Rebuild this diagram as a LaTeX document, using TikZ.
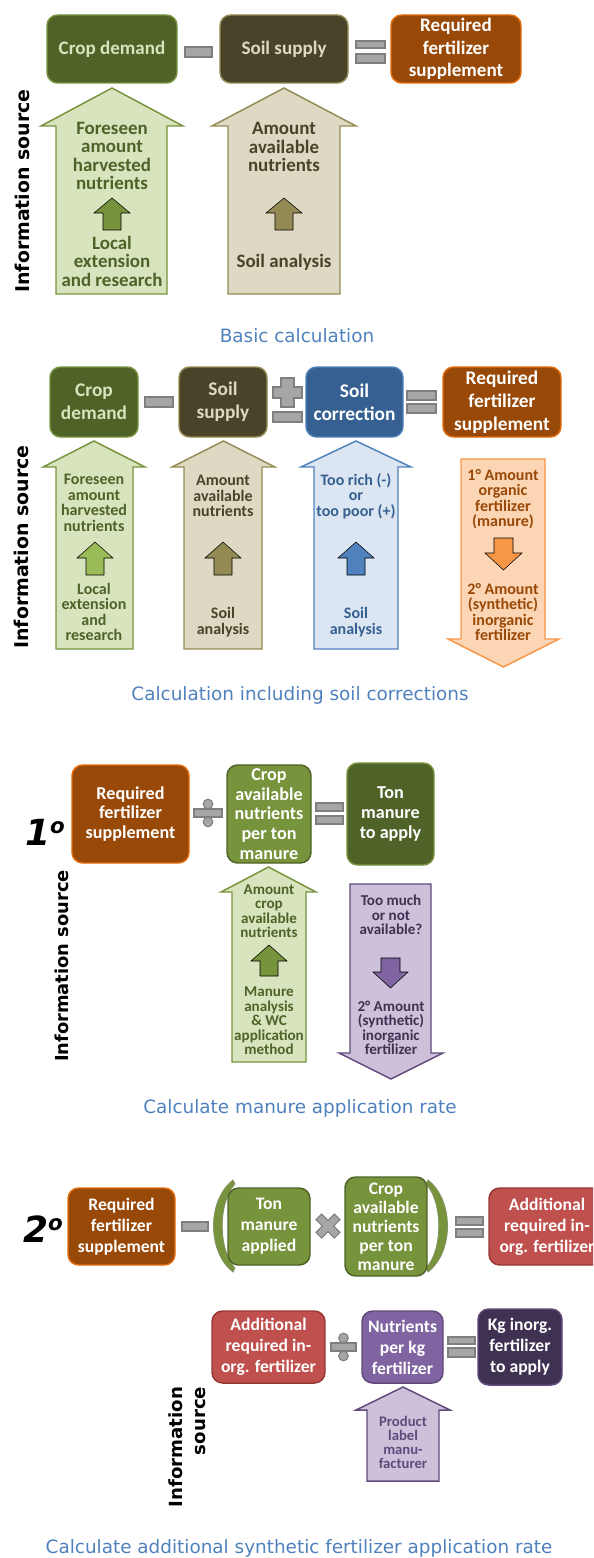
\documentclass[tikz,border=0pt]{standalone}
\usepackage{fontspec}
\setmainfont{Carlito}
\newfontfamily\verdfont{DejaVu Sans}

\definecolor{dkgreen}{HTML}{4F6228}
\definecolor{mdgreen}{HTML}{77933C}
\definecolor{ltgreen}{HTML}{D7E4BD}
\definecolor{grgreen}{HTML}{9BBB59}
\definecolor{dkolive}{HTML}{494429}
\definecolor{mdolive}{HTML}{948A54}
\definecolor{ltolive}{HTML}{DDD9C3}
\definecolor{dkbrown}{HTML}{984807}
\definecolor{mdorange}{HTML}{E46C0A}
\definecolor{ltorange}{HTML}{F79646}
\definecolor{peach}{HTML}{FCD5B5}
\definecolor{dkblue}{HTML}{366092}
\definecolor{mdblue}{HTML}{4F81BD}
\definecolor{ltblue}{HTML}{DCE6F2}
\definecolor{dkpurple}{HTML}{3F3151}
\definecolor{mdpurple}{HTML}{604A7B}
\definecolor{lvpurple}{HTML}{8064A2}
\definecolor{ltpurple}{HTML}{CCC0DA}
\definecolor{redbox}{HTML}{C0504D}
\definecolor{dkred}{HTML}{953735}
\definecolor{opgray}{HTML}{A6A6A6}
\definecolor{opedge}{HTML}{7F7F7F}

\newcommand{\boxnode}[7]{%
  \node[box,#1,minimum width={(#5-#3)*0.75pt},minimum height={(#6-#4)*0.75pt}]
    (#2) at ({(#3+#5)/2},{(#4+#6)/2}) {#7};}
\newcommand{\blockarrow}[8]{%
  \draw[#1] (#2,#8) -- (#2,#7) -- (#4,#7) -- ({(#4+#5)/2},#6) -- (#5,#7)
    -- (#3,#7) -- (#3,#8) -- cycle;}
\newcommand{\opbar}[4]{\draw[op] (#1,#2) rectangle (#3,#4);}
\newcommand{\divop}[4]{%
  \opbar{#1}{#3-4}{#2}{#3+4}
  \draw[op] ({(#1+#2)/2},#3-#4) circle[radius=3.6pt];
  \draw[op] ({(#1+#2)/2},#3+#4) circle[radius=3.6pt];}

\begin{document}
\begin{tikzpicture}[x=0.75pt,y=-0.75pt,
    box/.style={rounded corners=8pt,line width=1.1pt,inner sep=0pt,align=center},
    op/.style={fill=opgray,draw=opedge,line width=0.8pt},
    big/.style={line width=1.1pt},
    atext/.style={align=center,inner sep=0pt},
    fa/.style={font=\bfseries\fontsize{14.3}{16.9}\selectfont},
    fb/.style={font=\bfseries\fontsize{14.5}{17.2}\selectfont},
    fc/.style={font=\bfseries\fontsize{13.6}{14.8}\selectfont},
    fd/.style={font=\bfseries\fontsize{13.2}{15.7}\selectfont},
    ta/.style={atext,font=\bfseries\fontsize{14.2}{13.9}\selectfont},
    tb/.style={atext,font=\bfseries\fontsize{12}{11.6}\selectfont},
    tc/.style={atext,font=\bfseries\fontsize{11.3}{10.9}\selectfont},
    td/.style={atext,font=\bfseries\fontsize{11}{10.5}\selectfont},
    info/.style={rotate=90,inner sep=0pt,font=\verdfont\bfseries\fontsize{14.2}{18}\selectfont},
    capt/.style={text=mdblue,inner sep=0pt,font=\verdfont\fontsize{13.8}{16}\selectfont},
    num/.style={inner sep=0pt,font=\verdfont\bfseries\itshape\fontsize{27}{27}\selectfont}]
  \useasboundingbox (0,0) rectangle (593,1558);
  \clip (0,0) rectangle (593,1558);

  % basic calculation
  \boxnode{fa,fill=dkgreen,draw=mdgreen,text=ltgreen}{cd1}{47}{15}{177}{83}{Crop demand}
  \opbar{185}{47}{212}{57}
  \boxnode{fa,fill=dkolive,draw=mdolive,text=ltolive}{ss1}{220}{15}{348}{83}{Soil supply}
  \opbar{356}{41}{385}{48}
  \opbar{356}{54}{385}{63}
  \boxnode{fa,fill=dkbrown,draw=mdorange,text=white}{rf1}{391}{15}{521}{83}{Required\\fertilizer\\supplement}
  \blockarrow{big,fill=ltgreen,draw=mdgreen}{56}{167}{41}{183}{88}{126}{294}
  \blockarrow{fill=mdgreen}{103}{121}{94}{130}{198}{213}{230}
  \node[ta,text=dkgreen] (fo1) at (112,156) {Foreseen\\amount\\harvested\\nutrients};
  \node[ta,text=dkgreen] (le1) at (112,261) {Local\\extension\\and research};
  \blockarrow{big,fill=ltolive,draw=mdolive}{228}{340}{212}{356}{88}{126}{294}
  \blockarrow{fill=mdolive}{275}{293}{266}{302}{198}{213}{230}
  \node[ta,text=dkolive] (am1) at (284,147) {Amount\\available\\nutrients};
  \node[ta,text=dkolive] (sa1) at (284,262) {Soil analysis};
  \node[info] (is1) at (22,191) {Information source};
  \node[capt] (c1) at (297,336) {Basic calculation};

  % calculation including soil corrections
  \boxnode{fb,fill=dkgreen,draw=mdgreen,text=ltgreen}{cd2}{50}{367}{138}{437}{Crop\\demand}
  \opbar{145}{397}{173}{407}
  \boxnode{fb,fill=dkolive,draw=mdolive,text=ltolive}{ss2}{179}{367}{267}{437}{Soil\\supply}
  \draw[op] (281,378) -- (294,378) -- (294,387) -- (302,387) -- (302,398) -- (294,398)
    -- (294,407) -- (281,407) -- (281,398) -- (273,398) -- (273,387) -- (281,387) -- cycle;
  \opbar{273}{412}{302}{422}
  \boxnode{fb,fill=dkblue,draw=mdblue,text=white}{sc2}{306}{367}{403}{437}{Soil\\correction}
  \opbar{407}{391}{436}{400}
  \opbar{407}{404}{436}{413}
  \boxnode{fb,fill=dkbrown,draw=mdorange,text=white}{rf2}{443}{367}{561}{437}{Required\\fertilizer\\supplement}
  \blockarrow{big,fill=ltgreen,draw=mdgreen}{56}{133}{43}{145}{441}{467}{649}
  \blockarrow{fill=grgreen}{86}{104}{77}{113}{542}{558}{575}
  \node[tb,text=dkgreen] (fo2) at (94,503) {Foreseen\\amount\\harvested\\nutrients};
  \node[tb,text=dkgreen] (le2) at (94,612) {Local\\extension\\and\\research};
  \blockarrow{big,fill=ltolive,draw=mdolive}{184}{262}{172}{275}{441}{467}{649}
  \blockarrow{fill=mdolive}{214}{232}{205}{241}{542}{558}{575}
  \node[tb,text=dkolive] (am2) at (223,496) {Amount\\available\\nutrients};
  \node[tb,text=dkolive] (sa2) at (223,622) {Soil\\analysis};
  \blockarrow{big,fill=ltblue,draw=mdblue}{314}{398}{301}{411}{441}{467}{649}
  \blockarrow{fill=mdblue}{347}{365}{338}{374}{542}{558}{575}
  \node[tb,text=dkblue] (tr2) at (356,496) {Too rich (-)\\or\\too poor (+)};
  \node[tb,text=dkblue] (sb2) at (356,622) {Soil\\analysis};
  \blockarrow{big,fill=peach,draw=ltorange}{461}{545}{448}{559}{667}{639}{459}
  \blockarrow{fill=ltorange}{494}{513}{485}{522}{570}{553}{538}
  \node[tb,text=dkbrown] (og2) at (503,499) {1° Amount\\organic\\fertilizer\\(manure)};
  \node[tb,text=dkbrown] (in2) at (503,612) {2° Amount\\(synthetic)\\inorganic\\fertilizer};
  \node[info] (is2) at (21,547) {Information source};
  \node[capt] (c2) at (300,695) {Calculation including soil corrections};

  % manure application rate
  \node[num] (n1) at (45,832) {1\raisebox{9pt}{\fontsize{16}{16}\selectfont o}};
  \boxnode{fc,fill=dkbrown,draw=mdorange,text=white}{rf3}{72}{765}{189}{863}{Required\\fertilizer\\supplement}
  \divop{194}{222}{813}{9}
  \boxnode{fc,fill=mdgreen,draw=dkgreen,text=white}{cc3}{227}{765}{311}{863}{Crop\\available\\nutrients\\per ton\\manure}
  \opbar{316}{803}{343}{811}
  \opbar{316}{816}{343}{824}
  \boxnode{fc,fill=dkgreen,draw=mdgreen,text=white}{tm3}{347}{763}{434}{865}{Ton\\manure\\to apply}
  \blockarrow{big,fill=ltgreen,draw=mdgreen}{232}{306}{221}{316}{867}{892}{1062}
  \blockarrow{fill=mdgreen}{260}{278}{251}{287}{945}{961}{976}
  \node[tc,text=dkgreen] (ac3) at (269,911) {Amount\\crop\\available\\nutrients};
  \node[tc,text=dkgreen] (ma3) at (269,1021) {Manure\\analysis\\\& WC\\application\\method};
  \blockarrow{big,fill=ltpurple,draw=mdpurple}{350}{431}{339}{443}{1079}{1053}{884}
  \blockarrow{fill=lvpurple}{381}{400}{373}{408}{988}{972}{958}
  \node[tc,text=dkpurple] (tm3q) at (391,915) {Too much\\or not\\available?};
  \node[tc,text=dkpurple] (in3) at (391,1028) {2° Amount\\(synthetic)\\inorganic\\fertilizer};
  \node[info,font=\verdfont\bfseries\fontsize{13.4}{17}\selectfont] (is3) at (62,966) {Information source};
  \node[capt] (c3) at (300,1108) {Calculate manure application rate};

  % additional synthetic fertilizer
  \node[num] (n2) at (43,1229) {2\raisebox{9pt}{\fontsize{16}{16}\selectfont o}};
  \boxnode{fd,fill=dkbrown,draw=mdorange,text=white}{rf4}{68}{1188}{175}{1265}{Required\\fertilizer\\supplement}
  \opbar{182}{1222}{208}{1231}
  \draw[fill=mdgreen,draw=dkgreen!70,line width=0.6pt] (233,1180) .. controls (207,1200) and (207,1252) .. (233,1272)
    -- (235,1268) .. controls (218,1250) and (218,1202) .. (235,1184) -- cycle;
  \draw[fill=mdgreen,draw=dkgreen!70,line width=0.6pt] (428,1180) .. controls (454,1200) and (454,1252) .. (428,1272)
    -- (426,1268) .. controls (443,1250) and (443,1202) .. (426,1184) -- cycle;
  \boxnode{fd,fill=mdgreen,draw=dkgreen,text=white}{tm4}{228}{1188}{310}{1265}{Ton\\manure\\applied}
  \draw[op,rotate around={45:(328,1226)}] (324,1213) -- (332,1213) -- (332,1222) -- (341,1222) -- (341,1230)
    -- (332,1230) -- (332,1239) -- (324,1239) -- (324,1230) -- (315,1230) -- (315,1222) -- (324,1222) -- cycle;
  \boxnode{fd,font=\bfseries\fontsize{13.2}{14.3}\selectfont,fill=mdgreen,draw=dkgreen,text=white}{cc4}{345}{1177}{427}{1276}{Crop\\available\\nutrients\\per ton\\manure}
  \opbar{456}{1217}{483}{1225}
  \opbar{456}{1229}{483}{1237}
  \boxnode{fd,fill=redbox,draw=dkred,text=white}{ad4}{489}{1188}{605}{1265}{Additional\\required in-\\org. fertilizer}
  \boxnode{fd,fill=redbox,draw=dkred,text=white}{ad5}{212}{1311}{325}{1383}{Additional\\required in-\\org. fertilizer}
  \divop{331}{356}{1347}{9}
  \boxnode{fd,fill=lvpurple,draw=mdpurple,text=white}{np5}{362}{1311}{443}{1383}{Nutrients\\per kg\\fertilizer}
  \opbar{448}{1337}{475}{1344}
  \opbar{448}{1348}{475}{1357}
  \boxnode{fd,fill=dkpurple,draw=mdpurple,text=white}{kg5}{478}{1309}{562}{1385}{Kg inorg.\\fertilizer\\to apply}
  \blockarrow{big,fill=ltpurple,draw=mdpurple}{367}{439}{356}{450}{1387}{1410}{1481}
  \node[td,text=mdpurple] (pl5) at (403,1442) {Product\\label\\manu-\\facturer};
  \node[info,align=right,font=\verdfont\bfseries\fontsize{13.6}{17.5}\selectfont] (is4) at (187,1447) {Information\\source};
  \node[capt] (c4) at (299,1548) {Calculate additional synthetic fertilizer application rate};
\end{tikzpicture}
\end{document}
